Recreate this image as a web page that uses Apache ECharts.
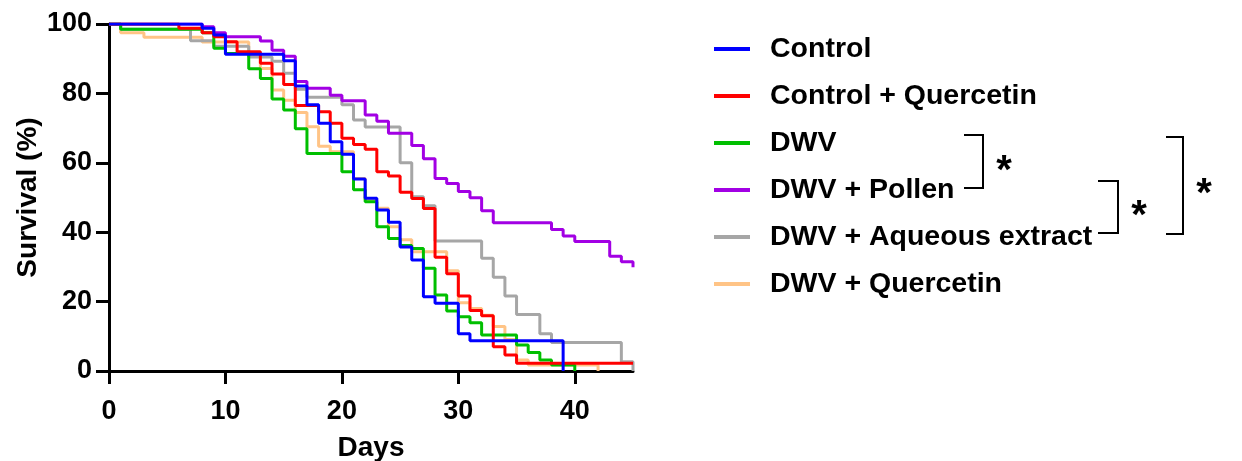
<!DOCTYPE html>
<html>
<head>
<meta charset="utf-8">
<script src="https://cdn.jsdelivr.net/npm/echarts@6/dist/echarts.min.js"></script>
<style>
  html, body { margin: 0; padding: 0; background: #fff; }
  #chart { width: 1242px; height: 461px; }
</style>
</head>
<body>
<div id="chart"></div>
<script>
// survival curves, [day, survival %]
const control = [[0, 100], [8, 98.8], [9, 96.8], [10, 91.3], [15, 89.4], [16, 82.1], [17, 76.7], [18, 71.4], [19, 66.1], [20, 62.5], [21, 55.3], [22, 49.8], [23, 46.4], [24, 42.9], [25, 35.7], [26, 32], [27, 21.4], [28, 19.5], [30, 10.7], [31, 8.7], [39, 0]]
const controlQuercetin = [[0, 100], [6, 98.8], [8, 97.5], [9, 96.3], [10, 94.9], [11, 92], [13, 88.7], [14, 85.6], [15, 82.6], [16, 76.5], [18, 74.7], [19, 71.4], [20, 67.1], [21, 65.3], [22, 63.9], [23, 57.4], [24, 56.2], [25, 51.5], [26, 49.7], [27, 46.8], [28, 32.8], [29, 28], [30, 21.6], [31, 17.4], [32, 15.9], [33, 7], [34, 4.6], [35, 2.2], [45, 2.2]]
const dwv = [[0, 100], [1, 98.5], [8, 97.5], [9, 93], [10, 91.5], [12, 87.1], [13, 84.3], [14, 78.4], [15, 75.2], [16, 69.8], [17, 62.7], [20, 57.4], [21, 52.2], [22, 48.8], [23, 41.6], [24, 38.2], [25, 36.2], [26, 35.3], [27, 29.6], [28, 21.9], [29, 17.3], [30, 15.6], [31, 13.9], [32, 10.4], [35, 7.5], [36, 5.3], [37, 3.2], [38, 1.7], [40, 0]]
const dwvPollen = [[0, 100], [8, 99.2], [9, 97.5], [10, 96.3], [13, 95.1], [14, 92.4], [15, 90.7], [16, 83.4], [17, 81.5], [19, 79.5], [20, 77.9], [22, 73.8], [23, 72], [24, 68.5], [26, 65], [27, 61.2], [28, 55.5], [29, 54], [30, 51.7], [31, 49.9], [32, 46.2], [33, 42.7], [38, 40.8], [39, 38.9], [40, 37.3], [43, 33.1], [44, 31.5], [45, 29.9]]
const dwvAqueous = [[0, 100], [1, 98.5], [7, 95.2], [9, 93.6], [12, 90.5], [14, 89.3], [15, 85.8], [16, 81.2], [17, 78.9], [20, 76.7], [21, 72.3], [22, 70.3], [25, 60], [26, 50.2], [27, 47.6], [28, 37.5], [32, 32.5], [33, 27], [34, 21.6], [35, 16.3], [37, 10.7], [38, 8.2], [44, 2.7], [45, 0]]
const dwvQuercetin = [[0, 100], [1, 97.5], [3, 96.2], [8, 94.8], [12, 90.6], [13, 87.2], [14, 81], [15, 78], [16, 74.5], [17, 70.4], [18, 64.8], [19, 63.2], [21, 55.5], [22, 49.3], [23, 46.9], [24, 41.6], [25, 37.8], [26, 34.4], [29, 28.9], [30, 19.7], [31, 18], [32, 16.1], [33, 12.8], [34, 9.1], [35, 3.2], [36, 1.7], [42, 0]]

const groups = ['Control', 'Control + Quercetin', 'DWV', 'DWV + Pollen', 'DWV + Aqueous extract', 'DWV + Quercetin']
const groupData = [control, controlQuercetin, dwv, dwvPollen, dwvAqueous, dwvQuercetin]
const groupColors = ['#0000FF', '#FF0000', '#00BF00', '#A200E4', '#A6A6A6', '#FFC486']
const xTicks = [0, 10, 20, 30, 40]
const yTicks = [0, 20, 40, 60, 80, 100]

const font = 'Liberation Sans, Arial, sans-serif'
const chart = echarts.init(document.getElementById('chart'), null, { renderer: 'canvas' })

const axisCommon = {
  axisLine: { show: true, lineStyle: { color: '#000', width: 3 } },
  axisTick: { show: true, length: 13, lineStyle: { color: '#000', width: 3 } },
  splitLine: { show: false },
  axisLabel: { color: '#000', fontSize: 27, fontWeight: 'bold', fontFamily: font },
  nameTextStyle: { color: '#000', fontSize: 28, fontWeight: 'bold', fontFamily: font }
}

// draw Control on top, so add series in reverse order
const series = groups.map((name, i) => ({
  name: name,
  type: 'line',
  step: 'end',
  data: groupData[i],
  showSymbol: false,
  symbol: 'none',
  color: groupColors[i],
  lineStyle: { width: 3, color: groupColors[i] },
  z: 10 - i
})).reverse()

// significance brackets
const bracket = (x0, x1, y0, y1) => ({
  type: 'polyline',
  shape: { points: [[x0, y0], [x1, y0], [x1, y1], [x0, y1]] },
  style: { stroke: '#000', lineWidth: 2, fill: null }
})
const star = (x, y) => ({
  type: 'text',
  x: x, y: y,
  style: { text: '*', font: 'bold 40px ' + font, fill: '#000', align: 'center', verticalAlign: 'middle' }
})

chart.setOption({
  animation: false,
  grid: { left: 109, top: 24, right: 609, bottom: 90, containLabel: false, outerBoundsMode: 'none' },
  xAxis: Object.assign({}, axisCommon, {
    type: 'value',
    min: 0,
    max: 45,
    interval: 10,
    name: 'Days',
    nameLocation: 'middle',
    nameGap: 63,
    axisLabel: Object.assign({}, axisCommon.axisLabel, {
      margin: 27,
      customValues: xTicks
    }),
    axisTick: Object.assign({}, axisCommon.axisTick, { customValues: xTicks })
  }),
  yAxis: Object.assign({}, axisCommon, {
    type: 'value',
    min: 0,
    max: 100,
    interval: 20,
    name: 'Survival (%)',
    nameLocation: 'middle',
    nameGap: 67,
    axisLabel: Object.assign({}, axisCommon.axisLabel, {
      margin: 17,
      customValues: yTicks
    }),
    axisTick: Object.assign({}, axisCommon.axisTick, { customValues: yTicks })
  }),
  legend: {
    data: groups,
    orient: 'vertical',
    left: 709,
    top: 29,
    itemWidth: 36,
    itemHeight: 4,
    itemGap: 17,
    icon: 'rect',
    selectedMode: false,
    textStyle: {
      color: '#000',
      fontSize: 28.5,
      fontWeight: 'bold',
      fontFamily: font,
      lineHeight: 30,
      padding: [0, 0, 0, 15]
    }
  },
  graphic: [
    bracket(964, 983, 135, 188),
    star(1004, 172),
    bracket(1098, 1118, 181, 233),
    star(1139, 217),
    bracket(1166, 1183, 137, 234),
    star(1204, 195)
  ],
  series: series
})
</script>
</body>
</html>
